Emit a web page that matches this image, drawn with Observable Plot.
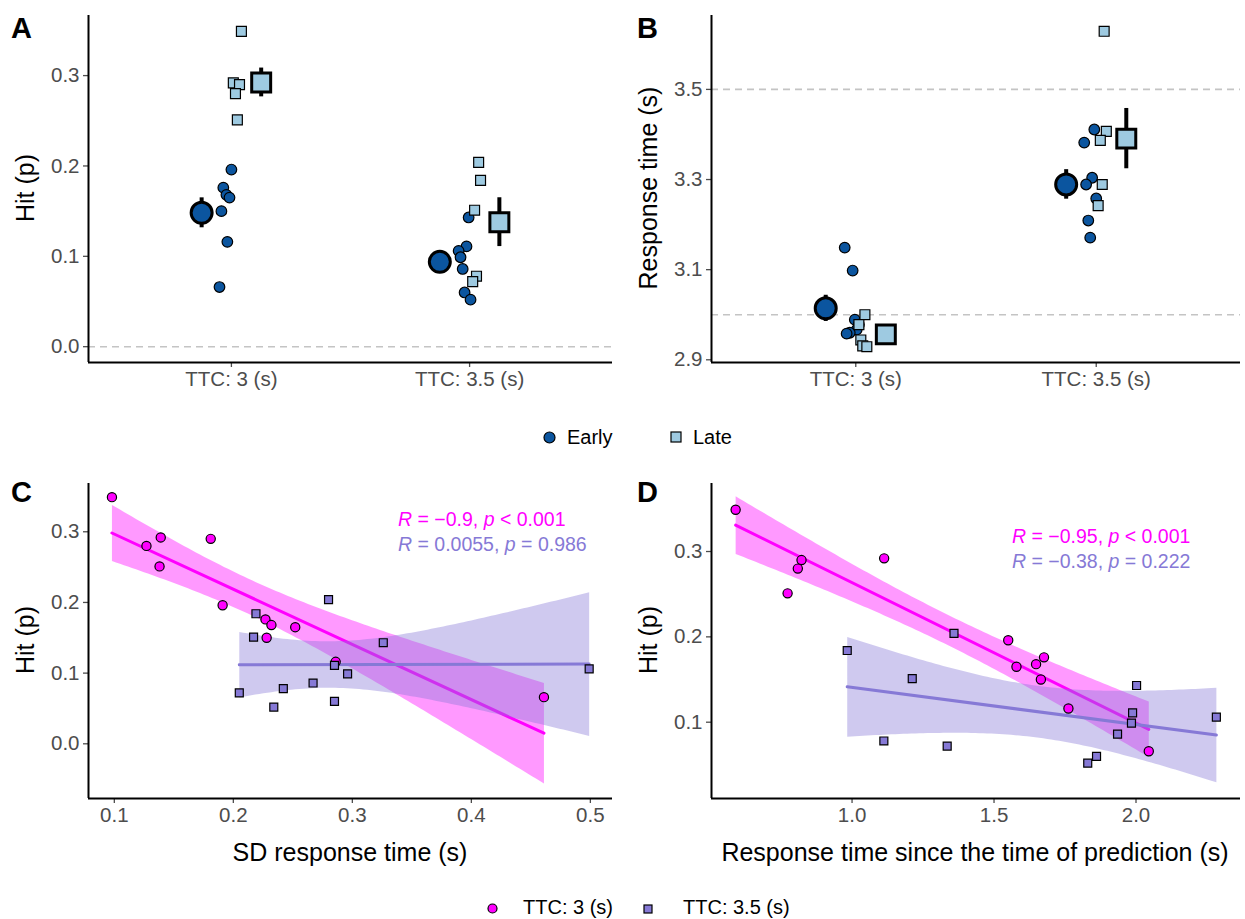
<!DOCTYPE html>
<html>
<head>
<meta charset="utf-8">
<script src="https://cdn.jsdelivr.net/npm/d3@7"></script>
<script src="https://cdn.jsdelivr.net/npm/@observablehq/plot@0.6"></script>
<style>
  html, body { margin: 0; padding: 0; background: #fff; }
  #fig { position: relative; width: 1245px; height: 919px; overflow: hidden;
         font-family: "Liberation Sans", Arial, sans-serif; color: #000; }
  .panel { position: absolute; }
  .tag { position: absolute; font-weight: bold; font-size: 29px; line-height: 29px; }
  .ytitle { position: absolute; font-size: 25px; line-height: 25px; white-space: nowrap;
            transform: translate(-50%, -50%) rotate(-90deg); }
  .xtitle { position: absolute; font-size: 25px; line-height: 25px; white-space: nowrap;
            transform: translate(-50%, -50%); }
  .lg-text { position: absolute; font-size: 20px; line-height: 20px; white-space: nowrap;
             transform: translateY(-50%); }
  .lg-key { position: absolute; }
  .stat { position: absolute; font-size: 19.5px; line-height: 19.5px; white-space: nowrap; }
</style>
</head>
<body>
<div id="fig"></div>
<script>
// ---------- data ----------
const ttcLabels = ["TTC: 3 (s)", "TTC: 3.5 (s)"];
const groupLabels = ["Early", "Late"];

// TTC 3 s: one entry per participant
const ttc3Group = ["Late", "Late", "Late", "Late", "Late",
                   "Early", "Early", "Early", "Early", "Early", "Early", "Early"];
const ttc3Hit = [0.349, 0.292, 0.290, 0.280, 0.251, 0.196, 0.176, 0.168, 0.165, 0.150, 0.116, 0.066];
const ttc3SdRt = [0.098, 0.139, 0.181, 0.127, 0.138, 0.191, 0.227, 0.232, 0.252, 0.228, 0.286, 0.461];
const ttc3RtSincePred = [0.590, 1.113, 0.822, 0.809, 0.773, 1.550, 1.676, 1.648, 1.579, 1.665, 1.762, 2.045];
const ttc3Rt = [3.000, 2.978, 2.944, 2.931, 2.929, 3.149, 3.098, 2.989, 2.978, 2.967, 2.960, 2.958];
const ttc3JitterHit = [0.042, 0.008, 0.034, 0.017, 0.025, 0.000, -0.034, -0.021, -0.008, -0.042, -0.017, -0.050];
const ttc3JitterRt = [0.038, 0.013, 0.021, 0.029, 0.046, -0.046, -0.013, -0.004, 0.013, 0.004, -0.025, -0.038];

// TTC 3.5 s: one entry per participant
const ttc35Group = ["Late", "Late", "Late", "Late", "Late",
                    "Early", "Early", "Early", "Early", "Early", "Early", "Early"];
const ttc35Hit = [0.204, 0.184, 0.151, 0.078, 0.072, 0.143, 0.111, 0.106, 0.099, 0.086, 0.060, 0.052];
const ttc35SdRt = [0.280, 0.219, 0.217, 0.242, 0.205, 0.326, 0.285, 0.499, 0.296, 0.267, 0.285, 0.234];
const ttc35RtSincePred = [1.359, 0.983, 1.212, 1.112, 1.335, 2.002, 1.988, 2.283, 1.984, 1.935, 1.861, 1.830];
const ttc35Rt = [3.629, 3.407, 3.387, 3.289, 3.242, 3.411, 3.382, 3.304, 3.289, 3.258, 3.209, 3.171];
const ttc35JitterHit = [0.038, 0.046, 0.021, 0.029, 0.013, -0.004, -0.013, -0.046, -0.038, -0.029, -0.021, 0.004];
const ttc35JitterRt = [0.033, 0.042, 0.017, 0.025, 0.008, -0.008, -0.050, -0.017, -0.042, 0.000, -0.033, -0.025];

// correlation annotations (panel C, panel D)
const corC = [["−0.9", "< 0.001"], ["0.0055", "= 0.986"]];
const corD = [["−0.95", "< 0.001"], ["−0.38", "= 0.222"]];

// reference lines
const refHit = [0];
const refRt = [3.0, 3.5];

// ---------- styles ----------
const colEarly = "#0b559f", colLate = "#9ecae1";
const colTTC3 = "#ff00ff", colTTC35 = "#8679d6";
const tickColor = "#4d4d4d";
const tickFont = 20.5;
const meanDodge = 0.125;

const rows = [];
function addRows(ttc, group, hit, sd, rtp, rt, jh, jr) {
  hit.forEach((h, i) => rows.push({
    ttc, group: group[i], hit: h, sd: sd[i], rtp: rtp[i], rt: rt[i], jh: jh[i], jr: jr[i]
  }));
}
addRows(1, ttc3Group, ttc3Hit, ttc3SdRt, ttc3RtSincePred, ttc3Rt, ttc3JitterHit, ttc3JitterRt);
addRows(2, ttc35Group, ttc35Hit, ttc35SdRt, ttc35RtSincePred, ttc35Rt, ttc35JitterHit, ttc35JitterRt);

const fig = document.getElementById("fig");
const plotStyle = {
  fontFamily: '"Liberation Sans", Arial, sans-serif',
  fontSize: tickFont + "px", color: tickColor, background: "transparent", overflow: "visible"
};

function place(node, left, top) {
  const d = document.createElement("div");
  d.className = "panel";
  d.style.left = left + "px";
  d.style.top = top + "px";
  d.appendChild(node);
  fig.appendChild(d);
}
function html(cls, text, left, top) {
  const d = document.createElement("div");
  d.className = cls;
  d.style.left = left + "px";
  d.style.top = top + "px";
  d.innerHTML = text;
  fig.appendChild(d);
  return d;
}

function axes(xTicks, xFormat, yTicks, yFormat, xDomain, yDomain) {
  const common = {tickSize: 5, tickPadding: 4, fontSize: tickFont, color: tickColor, label: null, strokeWidth: 1.3};
  return [
    Plot.axisX({...common, ticks: xTicks, tickFormat: xFormat}),
    Plot.axisY({...common, ticks: yTicks, tickFormat: yFormat}),
    Plot.ruleX([xDomain[0]], {stroke: "black", strokeWidth: 2}),
    Plot.ruleY([yDomain[0]], {stroke: "black", strokeWidth: 2})
  ];
}

// Panels A and B: individual points per condition with group mean ± SE
function categoryPanel(valueKey, jitterKey, yDomain, yTicks, refs, width, marginLeft, marginRight) {
  const pts = rows.map(d => ({...d, v: d[valueKey], x: d.ttc + d[jitterKey]}));
  const stats = d3.flatRollup(pts,
    v => ({m: d3.mean(v, d => d.v), se: d3.deviation(v, d => d.v) / Math.sqrt(v.length)}),
    d => d.ttc, d => d.group
  ).map(([ttc, group, s]) => ({ttc, group, ...s, x: ttc + (group === "Early" ? -meanDodge : meanDodge)}));
  const xDomain = [0.4, 2.6];
  return Plot.plot({
    width, height: 400, marginLeft, marginRight, marginTop: 15, marginBottom: 38,
    style: plotStyle,
    x: {domain: xDomain},
    y: {domain: yDomain},
    marks: [
      Plot.ruleY(refs, {stroke: "#c4c4c4", strokeWidth: 1.6, strokeDasharray: "7,5"}),
      Plot.dot(pts.filter(d => d.group === "Early"), {x: "x", y: "v", r: 5.3, fill: colEarly, stroke: "black", strokeWidth: 1.2}),
      Plot.dot(pts.filter(d => d.group === "Late"), {x: "x", y: "v", r: 5.6, symbol: "square", fill: colLate, stroke: "black", strokeWidth: 1.2}),
      Plot.ruleX(stats, {x: "x", y1: d => d.m - d.se, y2: d => d.m + d.se, stroke: "black", strokeWidth: 4}),
      Plot.dot(stats.filter(d => d.group === "Early"), {x: "x", y: "m", r: 10.5, fill: colEarly, stroke: "black", strokeWidth: 3}),
      Plot.dot(stats.filter(d => d.group === "Late"), {x: "x", y: "m", r: 10.7, symbol: "square", fill: colLate, stroke: "black", strokeWidth: 3}),
      ...axes([1, 2], i => ttcLabels[i - 1], yTicks, d3.format(".1f"), xDomain, yDomain)
    ]
  });
}

// Panels C and D: hit rate against a response-time measure, with linear fits
function scatterPanel(xKey, xDomain, xTicks, yDomain, yTicks, width, marginLeft, marginRight) {
  const a = rows.filter(d => d.ttc === 1), b = rows.filter(d => d.ttc === 2);
  return Plot.plot({
    width, height: 400, marginLeft, marginRight, marginTop: 13, marginBottom: 72,
    style: plotStyle,
    x: {domain: xDomain},
    y: {domain: yDomain},
    marks: [
      Plot.linearRegressionY(a, {x: xKey, y: "hit", stroke: colTTC3, fill: colTTC3, fillOpacity: 0.4, strokeWidth: 3, ci: 0.95, clip: true}),
      Plot.linearRegressionY(b, {x: xKey, y: "hit", stroke: colTTC35, fill: colTTC35, fillOpacity: 0.4, strokeWidth: 3, ci: 0.95, clip: true}),
      Plot.dot(a, {x: xKey, y: "hit", r: 4.6, fill: colTTC3, stroke: "black", strokeWidth: 1.2}),
      Plot.dot(b, {x: xKey, y: "hit", r: 4.5, symbol: "square", fill: colTTC35, stroke: "black", strokeWidth: 1.2}),
      ...axes(xTicks, d3.format(".1f"), yTicks, d3.format(".1f"), xDomain, yDomain)
    ]
  });
}

place(categoryPanel("hit", "jh", [-0.0175, 0.3665], [0, 0.1, 0.2, 0.3], refHit, 620, 88, 8), 0, 0);
place(categoryPanel("rt", "jr", [2.894, 3.664], [2.9, 3.1, 3.3, 3.5], refRt, 625, 91, 5), 620, 0);
place(scatterPanel("sd", [0.0783, 0.5186], [0.1, 0.2, 0.3, 0.4, 0.5], [-0.0774, 0.3683], [0, 0.1, 0.2, 0.3], 620, 88, 8), 0, 470);
place(scatterPanel("rtp", [0.505, 2.368], [1.0, 1.5, 2.0], [0.0106, 0.3797], [0.1, 0.2, 0.3], 625, 91, 5), 620, 470);

// panel tags
html("tag", "A", 11, 14);
html("tag", "B", 637, 14);
html("tag", "C", 11, 478);
html("tag", "D", 637, 478);

// axis titles
html("ytitle", "Hit (p)", 25, 188);
html("ytitle", "Response time (s)", 648, 188);
html("ytitle", "Hit (p)", 25, 640);
html("ytitle", "Hit (p)", 648, 640);
html("xtitle", "SD response time (s)", 350, 852);
html("xtitle", "Response time since the time of prediction (s)", 975, 852);

// correlation labels
function statLine(r, p) { return `<i>R</i> = ${r}, <i>p</i> ${p}`; }
html("stat", statLine(...corC[0]), 398, 510).style.color = colTTC3;
html("stat", statLine(...corC[1]), 398, 535).style.color = colTTC35;
html("stat", statLine(...corD[0]), 1012, 527).style.color = colTTC3;
html("stat", statLine(...corD[1]), 1012, 552).style.color = colTTC35;

// legends
function key(shape, fill, size, cx, cy) {
  const s = size + 4;
  const svg = d3.create("svg").attr("width", s).attr("height", s);
  if (shape === "circle") {
    svg.append("circle").attr("cx", s / 2).attr("cy", s / 2).attr("r", size / 2)
      .attr("fill", fill).attr("stroke", "black").attr("stroke-width", 1.2);
  } else {
    svg.append("rect").attr("x", 2).attr("y", 2).attr("width", size).attr("height", size)
      .attr("fill", fill).attr("stroke", "black").attr("stroke-width", 1.2);
  }
  const d = document.createElement("div");
  d.className = "lg-key";
  d.style.left = (cx - s / 2) + "px";
  d.style.top = (cy - s / 2) + "px";
  d.appendChild(svg.node());
  fig.appendChild(d);
}
key("circle", colEarly, 11, 549, 437);
html("lg-text", groupLabels[0], 567, 437);
key("square", colLate, 10, 676, 437);
html("lg-text", groupLabels[1], 693, 437);

key("circle", colTTC3, 9, 492, 907);
html("lg-text", ttcLabels[0], 523, 907);
key("square", colTTC35, 8, 648, 907);
html("lg-text", ttcLabels[1], 683, 907);
</script>
</body>
</html>
